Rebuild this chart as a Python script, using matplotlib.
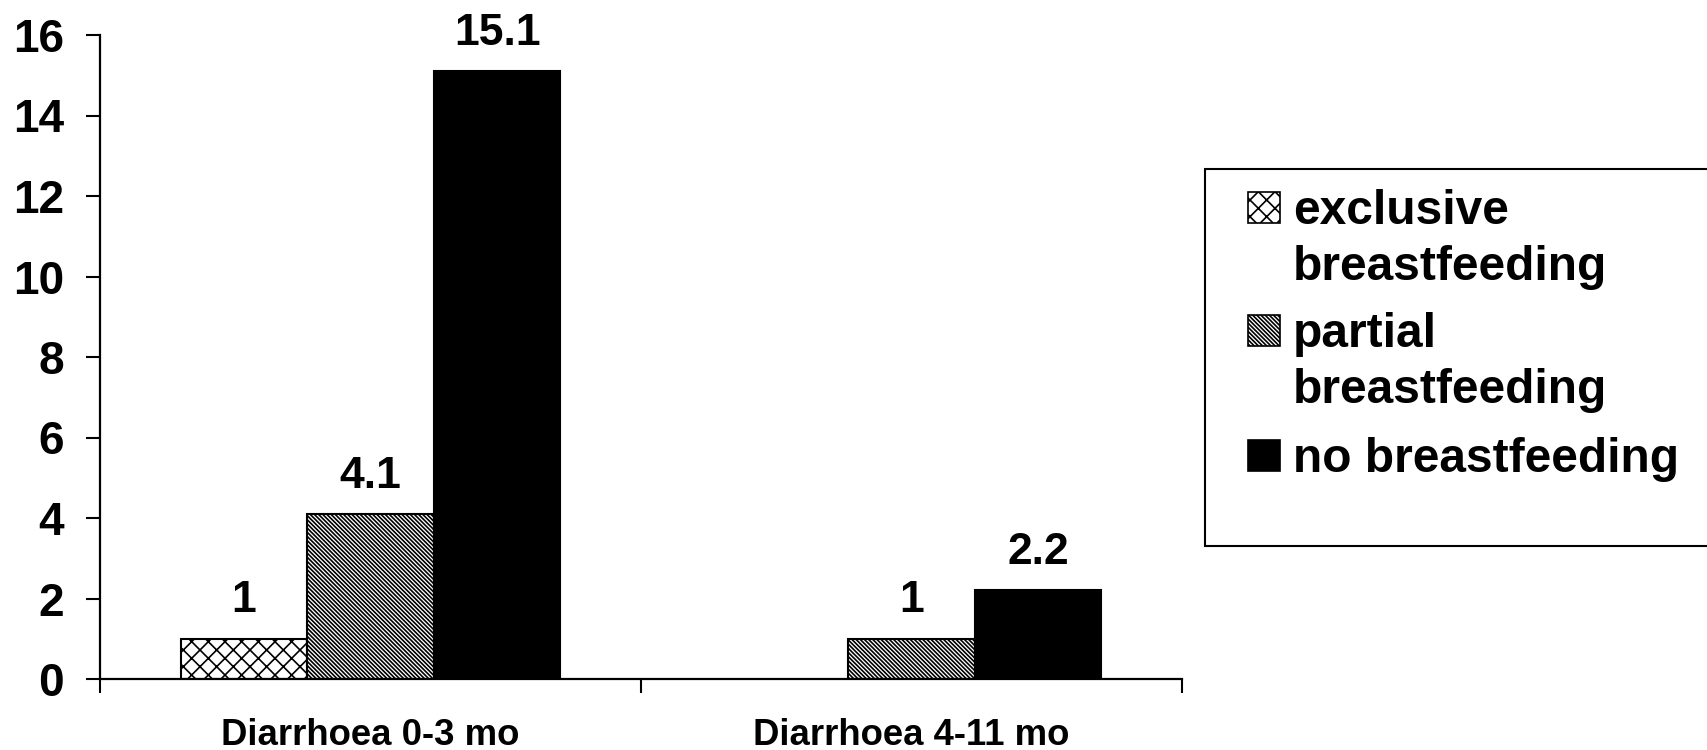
import matplotlib
matplotlib.use("Agg")
import matplotlib.pyplot as plt
from matplotlib.patches import Rectangle
import numpy as np

categories = ["Diarrhoea 0-3 mo", "Diarrhoea 4-11 mo"]
series = ["exclusive\nbreastfeeding", "partial\nbreastfeeding", "no breastfeeding"]
exclusive = [1.0, np.nan]
partial = [4.1, 1.0]
none_bf = [15.1, 2.2]
value_labels = [["1", None], ["4.1", "1"], ["15.1", "2.2"]]
yticks = [0, 2, 4, 6, 8, 10, 12, 14, 16]

plt.rcParams['font.family'] = ['Liberation Sans', 'DejaVu Sans']
plt.rcParams['font.weight'] = 'bold'
plt.rcParams['hatch.linewidth'] = 1.2

W, H = 1708, 750
fig = plt.figure(figsize=(W / 100, H / 100), dpi=100)
ax = fig.add_axes([100 / W, 1 - 679 / H, (1182 - 100) / W, (679 - 35) / H])

x = np.arange(len(categories))
bw = 0.234
offsets = [-bw, 0, bw]
values = [exclusive, partial, none_bf]
hatches = ['xx', '\\' * 8, None]
faces = ['white', 'white', 'black']

for i, (vals, off, h, fc) in enumerate(zip(values, offsets, hatches, faces)):
    v = np.array(vals, dtype=float)
    mask = ~np.isnan(v)
    ax.bar(x[mask] + off, v[mask], width=bw, facecolor=fc, edgecolor='black',
           hatch=h, linewidth=1.5, label=series[i])
    for xi, vi, lab in zip(x, v, value_labels[i]):
        if lab is None or np.isnan(vi):
            continue
        ax.annotate(lab, (xi + off, vi), xytext=(0, 19), textcoords='offset points',
                    ha='center', va='baseline', fontsize=32, fontweight='bold')

ax.set_xlim(-0.5, 1.5)
ax.set_ylim(0, 16)
ax.set_yticks(yticks)
ax.set_yticklabels([str(t) for t in yticks])
ax.set_xticks([-0.5, 0.5, 1.5])
ax.set_xticklabels([])
for s in ['top', 'right']:
    ax.spines[s].set_visible(False)
for s in ['left', 'bottom']:
    ax.spines[s].set_linewidth(1.6)
ax.tick_params(axis='y', direction='out', length=10, width=1.5, pad=16, labelsize=33)
ax.tick_params(axis='x', direction='out', length=10, width=1.5)
for t in ax.get_yticklabels():
    t.set_fontweight('bold')

for xi, c in zip(x, categories):
    ax.annotate(c, (xi, 0), xycoords=('data', 'axes fraction'), xytext=(0, -47.5),
                textcoords='offset points', ha='center', va='baseline',
                fontsize=26.3, fontweight='bold')

# legend drawn manually (frame extends beyond the right edge as in the reference)
def fx(px):
    return px / W

def fy(py):
    return 1 - py / H

fig.patches.append(Rectangle((fx(1205), fy(546)), (1720 - 1205) / W, (546 - 169) / H,
                             transform=fig.transFigure, facecolor='white',
                             edgecolor='black', linewidth=1.5, zorder=0))

line_baselines = [[224, 280], [347, 403], [472]]
for i, lab in enumerate(series):
    lines = lab.split("\n")
    base0 = line_baselines[i][0]
    fig.patches.append(Rectangle((fx(1248), fy(base0 - 1)), 32 / W, 31 / H,
                                 transform=fig.transFigure, facecolor=faces[i],
                                 edgecolor='black', linewidth=1.2, hatch=hatches[i],
                                 zorder=2))
    for ln, yb in zip(lines, line_baselines[i]):
        fig.text(fx(1293), fy(yb), ln, ha='left', va='baseline', fontsize=34.5,
                 fontweight='bold')

fig.savefig("out.png", dpi=100)
